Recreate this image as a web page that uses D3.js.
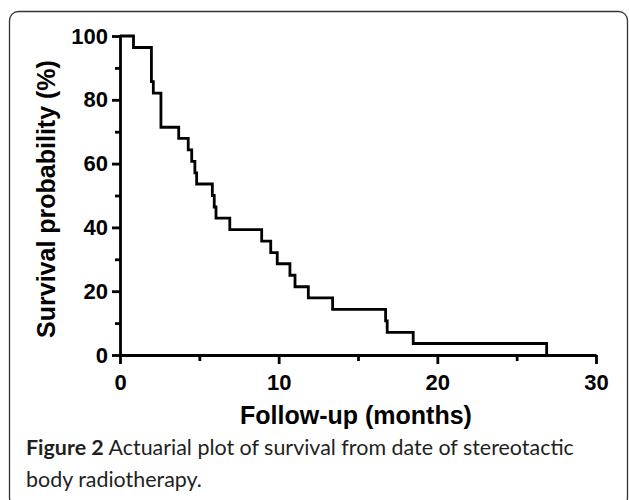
<!DOCTYPE html>
<html>
<head>
<meta charset="utf-8">
<script src="https://cdn.jsdelivr.net/npm/d3@7"></script>
<style>
  html, body { margin: 0; padding: 0; background: #fff; }
  svg { display: block; }
</style>
</head>
<body>
<svg id="chart" width="629" height="500"></svg>
<script>
// ---- data ----
const times    = [0, 0.85, 1.98, 2.10, 2.58, 3.70, 4.30, 4.52, 4.72, 4.83, 5.82, 5.94, 6.05, 6.92, 8.93, 9.50, 9.91, 10.71, 11.03, 11.87, 13.40, 16.74, 16.84, 18.48, 26.89];
const survival = [100, 96.4, 85.7, 82.1, 71.4, 67.9, 64.3, 60.7, 57.1, 53.6, 50.0, 46.4, 42.9, 39.3, 35.7, 32.1, 28.6, 25.0, 21.4, 17.9, 14.3, 10.7, 7.1, 3.6, 0];
const xMajorTicks = [0, 10, 20, 30];
const xMinorTicks = [5, 15, 25];
const yMajorTicks = [0, 20, 40, 60, 80, 100];
const yMinorTicks = [10, 30, 50, 70, 90];
const xTitle = "Follow-up (months)";
const yTitle = "Survival probability (%)";
const captionBold = "Figure 2";
const captionLine1 = " Actuarial plot of survival from date of stereotactic";
const captionLine2 = "body radiotherapy.";

(function () {
const svg = d3.select("#chart");
const mLeft = 120, mRight = 596, mTop = 36, mBottom = 355;

const x = d3.scaleLinear().domain([0, 30]).range([mLeft, mRight]);
const y = d3.scaleLinear().domain([0, 100]).range([mBottom, mTop]);

// frame
svg.append("rect")
  .attr("x", 9.5).attr("y", 11.5)
  .attr("width", 618).attr("height", 495)
  .attr("rx", 9).attr("ry", 9)
  .attr("fill", "none").attr("stroke", "#333").attr("stroke-width", 1.3);

const axisFont = "'Liberation Sans', Arial, Helvetica, sans-serif";
const sw = 2.8;

// minor ticks
svg.append("g").attr("transform", `translate(${mLeft},0)`)
  .call(d3.axisLeft(y).tickValues(yMinorTicks).tickSize(5).tickFormat(""))
  .call(g => g.select(".domain").remove())
  .call(g => g.selectAll("line").attr("stroke", "#000").attr("stroke-width", sw));
svg.append("g").attr("transform", `translate(0,${mBottom})`)
  .call(d3.axisBottom(x).tickValues(xMinorTicks).tickSize(6).tickFormat(""))
  .call(g => g.select(".domain").remove())
  .call(g => g.selectAll("line").attr("stroke", "#000").attr("stroke-width", sw));

// major axes
const yAxis = svg.append("g").attr("transform", `translate(${mLeft},0)`)
  .call(d3.axisLeft(y).tickValues(yMajorTicks).tickSize(8).tickSizeOuter(0).tickPadding(4).tickFormat(d3.format("d")));
const xAxis = svg.append("g").attr("transform", `translate(0,${mBottom})`)
  .call(d3.axisBottom(x).tickValues(xMajorTicks).tickSize(9).tickSizeOuter(0).tickPadding(10).tickFormat(d3.format("d")));

[yAxis, xAxis].forEach(g => {
  g.select(".domain").attr("stroke", "#000").attr("stroke-width", sw);
  g.selectAll(".tick line").attr("stroke", "#000").attr("stroke-width", sw);
  g.selectAll(".tick text")
    .attr("fill", "#000")
    .style("font-family", axisFont)
    .style("font-weight", "bold")
    .style("font-size", "22px");
});

// survival curve
const pts = times.map((t, i) => [t, survival[i]]);
svg.append("path")
  .datum(pts)
  .attr("fill", "none")
  .attr("stroke", "#000")
  .attr("stroke-width", sw)
  .attr("stroke-linejoin", "miter")
  .attr("d", d3.line().x(d => x(d[0])).y(d => y(d[1])).curve(d3.curveStepAfter));

// axis titles
svg.append("text")
  .attr("x", 356).attr("y", 424)
  .attr("text-anchor", "middle")
  .style("font-family", axisFont).style("font-weight", "bold").style("font-size", "25px")
  .attr("fill", "#000")
  .text(xTitle);

svg.append("text")
  .attr("transform", "translate(55,199) rotate(-90)")
  .attr("text-anchor", "middle")
  .style("font-family", axisFont).style("font-weight", "bold").style("font-size", "25px")
  .attr("fill", "#000")
  .text(yTitle);

// caption (slightly condensed to match the reference face)
const capFont = "Lato, 'Open Sans', sans-serif";
const capG = svg.append("g");
const cap1 = capG.append("text")
  .attr("x", 0).attr("y", 0)
  .style("font-family", capFont).style("font-size", "20.5px")
  .attr("fill", "#231f20");
cap1.append("tspan").style("font-weight", "bold").text(captionBold);
cap1.append("tspan").text(captionLine1);
const cap2 = capG.append("text")
  .attr("x", 0).attr("y", 32)
  .style("font-family", capFont).style("font-size", "20.5px")
  .attr("fill", "#231f20")
  .text(captionLine2);

const w = cap1.node().getComputedTextLength();
const sx = 548 / w;
capG.attr("transform", `translate(26,455) scale(${sx},1)`);
})();
</script>
</body>
</html>
